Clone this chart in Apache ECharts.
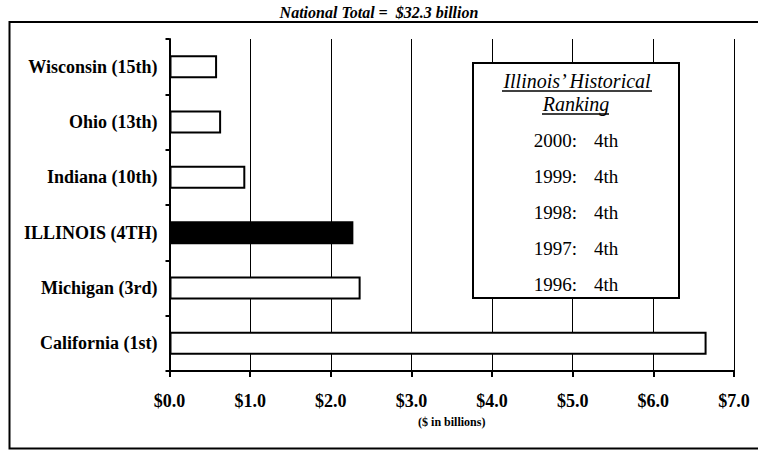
<!DOCTYPE html>
<html>
<head>
<meta charset="utf-8">
<script src="https://cdn.jsdelivr.net/npm/echarts@6/dist/echarts.min.js"></script>
<style>html,body{margin:0;padding:0;background:#fff;}#chart{width:758px;height:451px;}</style>
</head>
<body>
<div id="chart"></div>
<script>
const titleText = 'National Total =  $32.3 billion';
const categories = ['Wisconsin (15th)', 'Ohio (13th)', 'Indiana (10th)', 'ILLINOIS (4TH)', 'Michigan (3rd)', 'California (1st)'];
const values = [0.59, 0.64, 0.94, 2.28, 2.37, 6.66];
const highlight = 'ILLINOIS (4TH)';
const xTicks = [0, 1, 2, 3, 4, 5, 6, 7];
const axisName = '($ in billions)';
const boxTitle1 = 'Illinois\u2019 Historical';
const boxTitle2 = 'Ranking';
const rankYears = ['2000:', '1999:', '1998:', '1997:', '1996:'];
const rankValues = ['4th', '4th', '4th', '4th', '4th'];

const serif = '"Liberation Serif", "DejaVu Serif", serif';
const chart = echarts.init(document.getElementById('chart'), null, {renderer: 'svg'});

const graphics = [
  {type: 'rect', shape: {x: 9.5, y: 22, width: 760, height: 426.5}, style: {fill: 'none', stroke: '#000', lineWidth: 2}, z: 0, silent: true},
  {type: 'rect', shape: {x: 473, y: 63, width: 206, height: 235}, style: {fill: '#fff', stroke: '#000', lineWidth: 2}, z: 10},
  {type: 'text', x: 577, y: 81, style: {text: boxTitle1, font: 'italic 20px ' + serif, fill: '#000', textAlign: 'center', textVerticalAlign: 'middle'}, z: 11},
  {type: 'line', shape: {x1: 502, y1: 91, x2: 652, y2: 91}, style: {stroke: '#000', lineWidth: 1.5}, z: 11},
  {type: 'text', x: 576, y: 104, style: {text: boxTitle2, font: 'italic 20px ' + serif, fill: '#000', textAlign: 'center', textVerticalAlign: 'middle'}, z: 11},
  {type: 'line', shape: {x1: 542, y1: 114, x2: 609, y2: 114}, style: {stroke: '#000', lineWidth: 1.5}, z: 11}
];
rankYears.forEach((yr, i) => {
  const yy = 140 + i * 36.2;
  graphics.push({type: 'text', x: 577, y: yy, style: {text: yr, font: '19px ' + serif, fill: '#000', textAlign: 'right', textVerticalAlign: 'middle'}, z: 11});
  graphics.push({type: 'text', x: 594, y: yy, style: {text: rankValues[i], font: '19px ' + serif, fill: '#000', textAlign: 'left', textVerticalAlign: 'middle'}, z: 11});
});

chart.setOption({
  animation: false,
  backgroundColor: '#fff',
  title: {
    text: titleText, left: 'center', top: 3, padding: 0,
    textStyle: {fontFamily: serif, fontSize: 16, lineHeight: 18, fontWeight: 'bold', fontStyle: 'italic', color: '#000'}
  },
  grid: {left: 169.5, right: 24, top: 39, bottom: 80, containLabel: false},
  xAxis: {
    type: 'value', min: 0, max: 7, interval: 1,
    name: axisName, nameLocation: 'middle', nameGap: 45,
    nameTextStyle: {fontFamily: serif, fontSize: 12, fontWeight: 'bold', color: '#000'},
    axisLine: {show: true, lineStyle: {color: '#000', width: 2}},
    axisTick: {show: true, length: 6, lineStyle: {color: '#000', width: 2}},
    axisLabel: {margin: 21, fontFamily: serif, fontSize: 18, fontWeight: 'bold', color: '#000',
      formatter: v => xTicks.indexOf(v) >= 0 ? '$' + v.toFixed(1) : ''},
    splitLine: {show: true, lineStyle: {color: '#000', width: 1}}
  },
  yAxis: {
    type: 'category', data: categories, inverse: true,
    axisLine: {show: true, lineStyle: {color: '#000', width: 2}},
    axisTick: {show: true, length: 4, alignWithLabel: false, lineStyle: {color: '#000', width: 2}},
    axisLabel: {margin: 12, fontFamily: serif, fontSize: 18, fontWeight: 'bold', color: '#000'},
    splitLine: {show: false}
  },
  series: [{
    type: 'bar', barWidth: 23,
    data: values.map((v, i) => ({
      value: v,
      itemStyle: {color: categories[i] === highlight ? '#000' : '#fff', borderColor: '#000', borderWidth: 2}
    })),
    z: 5
  }],
  graphic: graphics
});
</script>
</body>
</html>
